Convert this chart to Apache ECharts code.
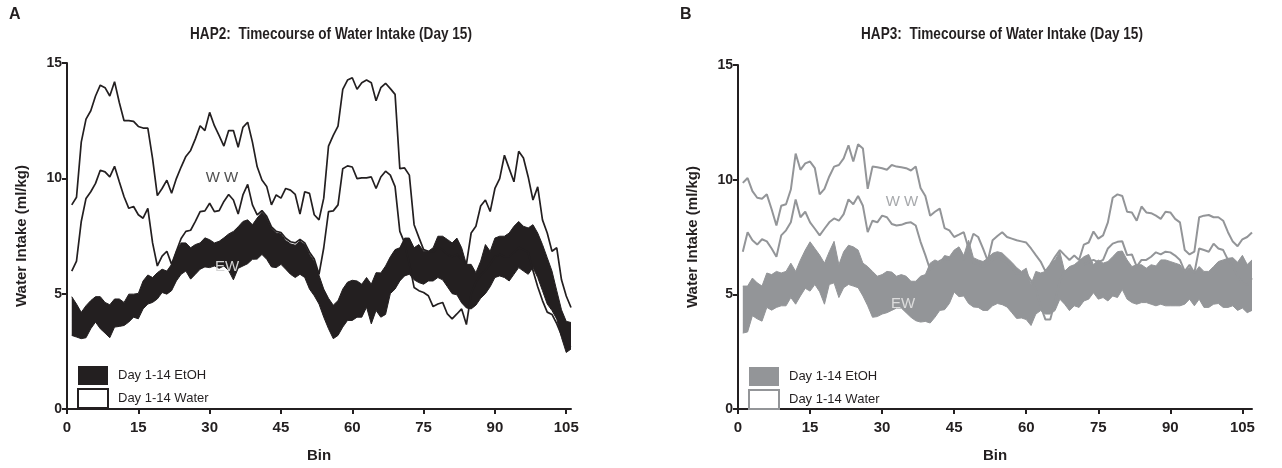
<!DOCTYPE html>
<html>
<head>
<meta charset="utf-8">
<script src="https://cdn.jsdelivr.net/npm/echarts@6/dist/echarts.min.js"></script>
<style>
  html, body { margin: 0; padding: 0; background: #fff; }
  #chart { width: 1282px; height: 468px; }
</style>
</head>
<body>
<div id="chart"></div>
<script>
// bins on the x axis (panel A runs to 106, panel B to 107)
const binsA = Array.from({ length: 107 }, (_, i) => i)
const binsB = Array.from({ length: 108 }, (_, i) => i)
const xTicks = [0, 15, 30, 45, 60, 75, 90, 105]

// HAP2 (A): water-history mice, upper / lower edge of the band (bins 1..106)
const hap2WaterUpper = [
  8.85, 9.18, 11.57, 12.57, 12.93, 13.57, 14.04, 13.93, 13.57, 14.19,
  13.29, 12.5, 12.5, 12.47, 12.25, 12.18, 12.18, 10.85, 9.25, 9.56,
  9.92, 9.35, 9.99, 10.49, 10.95, 11.21, 11.71, 12.28, 12.07, 12.86,
  12.28, 11.85, 11.4, 12.07, 12.07, 11.35, 12.21, 12.43, 11.57, 10.5,
  9.93, 9.65, 8.85, 9.28, 9.14, 9.56, 9.49, 9.3, 8.45, 9.42,
  9.35, 8.42, 8.2, 9.14, 11.4, 11.86, 12.26, 13.86, 14.26, 14.36,
  13.86, 14.14, 14.26, 14.14, 13.36, 13.93, 14.12, 13.89, 13.64, 10.42,
  10.45, 10.14, 7.99, 7.44, 6.91, 6.84, 6.8, 7.0, 6.9, 6.7,
  6.6, 6.7, 6.5, 6.27, 7.63, 7.92, 8.8, 9.06, 8.56, 9.56,
  9.99, 11.0, 10.42, 9.85, 11.17, 10.88, 10.06, 9.06, 9.63, 8.2,
  7.63, 6.84, 6.99, 5.6, 4.9, 4.4
]
const hap2WaterLower = [
  5.98, 6.41, 8.13, 9.13, 9.42, 9.78, 10.35, 10.28, 10.06, 10.52,
  9.85, 9.2, 8.7, 8.78, 8.42, 8.27, 8.7, 7.2, 6.2, 6.63,
  6.84, 6.27, 6.84, 7.39, 7.7, 7.75, 8.13, 8.56, 8.59, 8.92,
  8.56, 8.6, 9.0, 9.3, 9.06, 8.45, 9.28, 9.74, 8.85, 8.42,
  8.6, 8.35, 7.9, 7.7, 7.65, 7.4, 7.25, 7.2, 7.35, 7.2,
  6.8, 6.5, 5.84, 6.99, 8.56, 8.59, 8.85, 10.42, 10.54, 10.49,
  9.99, 10.02, 10.02, 10.06, 9.56, 10.06, 10.31, 10.14, 9.64, 7.7,
  7.2, 6.3, 5.27, 5.13, 5.05, 4.91, 4.44, 4.55, 4.62, 4.12,
  3.91, 4.12, 4.34, 3.66, 5.0, 5.5, 5.8, 6.0, 6.3, 6.6,
  6.7, 6.6, 6.6, 6.8, 7.0, 6.9, 6.8, 6.0, 5.3, 4.7,
  4.2, 4.1, 3.7, 3.2, 2.8, 2.7
]
// HAP2 (A): EtOH-history mice
const hap2EtohUpper = [
  4.87, 4.55, 4.19, 4.48, 4.7, 4.87, 4.87, 4.62, 4.52, 4.77,
  4.77, 4.62, 4.98, 4.98, 5.01, 5.55, 5.81, 5.7, 5.91, 6.06,
  5.98, 6.27, 6.84, 7.2, 7.2, 6.99, 7.13, 7.2, 7.42, 7.34,
  7.2, 7.27, 7.42, 7.59, 7.7, 7.9, 8.13, 8.2, 7.99, 8.28,
  8.53, 8.28, 7.85, 7.63, 7.59, 7.3, 7.16, 7.1, 7.27, 7.13,
  6.7, 6.41, 5.8, 5.2, 4.8, 4.5, 4.7, 5.2, 5.5, 5.58,
  5.55, 5.41, 5.7, 5.41, 5.91, 5.9, 6.2, 6.6, 6.91, 6.99,
  7.41, 7.41, 6.99, 7.13, 6.84, 6.84, 6.99, 7.49, 7.49, 7.35,
  7.2, 7.41, 6.99, 6.27, 6.27, 5.91, 6.41, 7.13, 6.84, 7.41,
  7.49, 7.49, 7.63, 7.92, 8.13, 7.92, 7.85, 7.99, 7.63, 7.13,
  6.56, 5.98, 5.13, 4.3, 3.8, 3.75
]
const hap2EtohLower = [
  3.19, 3.12, 3.05, 3.09, 3.48, 3.77, 3.48, 3.29, 3.09, 3.55,
  3.58, 3.62, 3.77, 3.98, 3.91, 4.34, 4.55, 4.62, 4.77, 5.05,
  4.98, 5.13, 5.55, 5.84, 5.98, 5.63, 5.84, 6.06, 6.16, 6.13,
  6.2, 6.1, 6.2, 6.0, 5.6, 6.1, 6.2, 6.3, 6.49, 6.5,
  6.7, 6.49, 6.16, 6.13, 6.27, 6.06, 5.84, 5.7, 5.84, 5.7,
  5.2, 4.91, 4.55, 3.98, 3.48, 3.05, 3.19, 3.55, 3.84, 3.84,
  3.98, 3.98, 4.41, 3.69, 4.27, 3.98, 4.1, 5.0, 5.2, 5.55,
  5.77, 5.84, 5.6, 5.48, 5.41, 5.55, 5.55, 5.7, 5.6, 5.3,
  5.0, 4.95, 4.6, 4.38, 4.34, 4.5, 4.8, 5.0, 5.3, 5.7,
  5.77, 5.7, 5.55, 5.84, 6.13, 5.98, 5.84, 6.13, 5.7, 5.13,
  4.55, 4.27, 3.9, 3.1, 2.45, 2.6
]

// HAP3 (B): bins 1..107
const hap3WaterUpper = [
  9.86, 10.07, 9.5, 9.21, 9.17, 9.36, 8.71, 8.0, 8.86, 8.93,
  9.57, 11.14, 10.43, 10.71, 10.79, 10.5, 9.36, 9.6, 10.14, 10.57,
  10.64, 10.93, 11.5, 10.79, 11.54, 11.36, 9.6, 10.57, 10.54, 10.5,
  10.43, 10.64, 10.57, 10.54, 10.5, 10.4, 10.57, 9.64, 9.29, 8.43,
  8.6, 8.74, 7.89, 7.79, 7.5, 7.6, 7.71, 7.0, 7.64, 7.5,
  7.0, 6.46, 7.36, 7.54, 7.71, 7.5, 7.43, 7.36, 7.31, 7.26,
  7.0, 6.71, 6.43, 6.0, 6.29, 6.64, 6.93, 6.71, 6.5, 6.69,
  6.5, 7.17, 7.26, 7.74, 7.43, 7.57, 8.14, 9.21, 9.36, 9.29,
  8.6, 8.57, 8.21, 8.83, 8.57, 8.54, 8.43, 8.29, 8.6, 8.57,
  8.29, 8.14, 6.93, 6.74, 6.86, 8.36, 8.43, 8.46, 8.36, 8.36,
  8.21, 7.71, 7.3, 7.1, 7.4, 7.5, 7.7
]
const hap3WaterLower = [
  6.86, 7.71, 7.36, 7.17, 7.4, 7.31, 7.0, 6.64, 7.57, 7.79,
  8.14, 9.14, 8.36, 8.6, 8.14, 7.86, 7.57, 7.86, 8.14, 8.31,
  8.21, 8.5, 9.14, 8.93, 9.29, 8.86, 7.71, 8.21, 8.14, 8.43,
  8.36, 8.07, 8.0, 8.03, 8.11, 8.14, 8.0, 7.29, 6.71, 6.07,
  6.29, 6.46, 6.57, 6.5, 6.7, 6.8, 6.5, 7.0, 6.4, 6.3,
  6.2, 6.3, 6.5, 6.6, 6.5, 6.4, 6.2, 5.9, 5.9, 5.9,
  5.6, 5.2, 4.5, 3.9, 3.9, 4.7, 5.6, 6.0, 6.1, 6.2,
  6.3, 6.3, 6.4, 6.5, 6.4, 6.5, 7.0, 7.21, 7.29, 7.31,
  6.71, 6.74, 6.21, 6.5, 6.5, 6.64, 6.83, 6.74, 6.86, 6.83,
  6.69, 6.5, 6.0, 6.29, 5.93, 7.0, 6.93, 6.86, 7.21, 7.0,
  6.93, 6.5, 6.2, 5.8, 5.5, 5.4, 5.7
]
const hap3EtohUpper = [
  5.36, 5.36, 5.71, 5.5, 5.36, 5.93, 5.86, 6.0, 5.93, 6.0,
  6.36, 6.0, 6.5, 6.93, 7.29, 7.0, 6.71, 6.36, 6.86, 7.31,
  6.29, 6.86, 7.14, 7.07, 6.93, 6.36, 6.21, 6.0, 5.79, 5.86,
  6.0, 5.97, 5.79, 5.86, 5.79, 5.57, 5.57, 5.79, 5.86, 6.36,
  6.5, 6.4, 6.69, 6.64, 6.93, 7.07, 6.69, 7.36, 6.6, 6.5,
  6.43, 6.57, 6.79, 6.86, 6.8, 6.6, 6.4, 6.17, 6.0, 6.14,
  5.43, 6.0, 5.93, 6.0, 6.29, 6.5, 6.86, 6.0, 6.21, 6.29,
  6.46, 6.64, 6.74, 6.29, 6.5, 6.36, 6.43, 6.64, 6.86, 6.89,
  6.5, 6.21, 6.29, 6.29, 6.14, 6.29, 6.24, 6.5, 6.5, 6.43,
  6.36, 6.29, 6.0, 6.17, 5.93, 6.21, 6.0, 6.0, 6.21, 6.43,
  6.5, 6.57, 6.6, 6.4, 6.7, 6.3, 6.5
]
const hap3EtohLower = [
  3.31, 3.36, 4.07, 3.93, 3.83, 4.43, 4.31, 4.43, 4.5, 4.5,
  4.86, 4.57, 4.93, 5.26, 5.14, 5.43, 5.11, 4.57, 5.43, 5.5,
  4.86, 5.29, 5.43, 5.36, 5.29, 4.93, 4.5, 4.0, 4.03, 4.14,
  4.2, 4.3, 4.4, 4.4, 4.2, 4.0, 3.85, 3.79, 3.82, 3.75,
  4.0, 4.3, 4.33, 4.6, 5.1, 4.9, 4.93, 4.6, 4.45, 4.43,
  4.3, 4.3, 4.5, 4.6, 4.55, 4.45, 4.2, 3.95, 3.97, 3.9,
  3.64, 4.14, 4.29, 4.14, 4.14, 4.29, 4.79, 4.57, 4.29, 4.5,
  4.43, 4.71, 4.79, 5.07, 4.79, 4.86, 4.71, 4.93, 4.86, 5.21,
  4.79, 4.64, 4.57, 4.64, 4.64, 4.57, 4.5, 4.57, 4.5, 4.5,
  4.5, 4.5, 4.57, 4.79, 4.5, 4.79, 4.43, 4.43, 4.57, 4.6,
  4.43, 4.43, 4.5, 4.3, 4.4, 4.2, 4.3
]

const BLACK = '#231f20'
const GREY = '#939598'
const SANS = "'Liberation Sans', Arial, sans-serif"

// bin 0 has no value
const pad = arr => ['-', ...arr]
const diff = (up, lo) => up.map((u, i) => +(u - lo[i]).toFixed(2))
const isTick = (idx, val) => xTicks.includes(Number(val))

function xAxisFor(gridIndex, bins) {
  return {
    type: 'category', gridIndex, data: bins, boundaryGap: false,
    name: 'Bin', nameLocation: 'middle', nameGap: 39,
    nameTextStyle: { fontFamily: SANS, fontWeight: 'bold', fontSize: 15, color: BLACK },
    axisLine: { lineStyle: { color: BLACK, width: 2 } },
    axisTick: { interval: isTick, length: 5, alignWithLabel: true, lineStyle: { color: BLACK, width: 2 } },
    axisLabel: { interval: isTick, margin: 11, fontFamily: SANS, fontWeight: 'bold', fontSize: 15, color: BLACK },
    splitLine: { show: false },
  }
}

function yAxisFor(gridIndex) {
  return {
    type: 'value', gridIndex, min: 0, max: 15, interval: 5,
    name: 'Water Intake (ml/kg)', nameLocation: 'middle', nameGap: 38,
    nameTextStyle: { fontFamily: SANS, fontWeight: 'bold', fontSize: 15, color: BLACK },
    axisLine: { show: true, lineStyle: { color: BLACK, width: 2 } },
    axisTick: { show: true, length: 5, lineStyle: { color: BLACK, width: 2 } },
    axisLabel: { margin: 5, fontFamily: SANS, fontWeight: 'bold', fontSize: 14, color: BLACK },
    splitLine: { show: false },
  }
}

function panelSeries(idx, color, lineW, wUp, wLo, eUp, eLo) {
  const base = { type: 'line', xAxisIndex: idx, yAxisIndex: idx, symbol: 'none', silent: true }
  return [
    { ...base, name: 'Day 1-14 Water', data: pad(wUp), lineStyle: { color, width: lineW }, itemStyle: { color } },
    { ...base, name: 'water lower ' + idx, data: pad(wLo), lineStyle: { color, width: lineW } },
    { ...base, name: 'etoh lower ' + idx, stack: 'etoh' + idx, data: pad(eLo), lineStyle: { color, width: 1 } },
    {
      ...base, name: 'Day 1-14 EtOH', stack: 'etoh' + idx, data: pad(diff(eUp, eLo)),
      lineStyle: { color, width: 1 }, itemStyle: { color },
      areaStyle: { color, opacity: 1 },
    },
  ]
}

function legendFor(left, top, color) {
  return {
    orient: 'vertical', left, top, padding: 0, itemWidth: 30, itemHeight: 19, itemGap: 3,
    selectedMode: false,
    textStyle: { fontFamily: SANS, fontSize: 13, color: BLACK, padding: [0, 0, 0, 5] },
    data: [
      { name: 'Day 1-14 EtOH', icon: 'rect', itemStyle: { color, borderWidth: 0 } },
      { name: 'Day 1-14 Water', icon: 'rect', itemStyle: { color: '#fff', borderColor: color, borderWidth: 2 } },
    ],
  }
}

// condensed bold heading (the figure uses a narrow face)
function heading(text, x) {
  return {
    type: 'text', x, y: 34, scaleX: 0.8, z: 100,
    style: { text, align: 'center', verticalAlign: 'middle', fill: BLACK, font: "bold 17px 'Liberation Sans'" },
  }
}
function bandLabel(text, x, y, fill) {
  return {
    type: 'text', x, y, z: 100,
    style: { text, align: 'center', verticalAlign: 'middle', fill, font: "15px 'Liberation Sans'" },
  }
}

const chart = echarts.init(document.getElementById('chart'))

const option = {
  animation: false,
  backgroundColor: '#fff',
  title: [
    { text: 'A', left: 9, top: 7, padding: 0, textStyle: { fontFamily: SANS, fontWeight: 'bold', fontSize: 16, color: BLACK } },
    { text: 'B', left: 680, top: 7, padding: 0, textStyle: { fontFamily: SANS, fontWeight: 'bold', fontSize: 16, color: BLACK } },
  ],
  grid: [
    { left: 67, top: 63, width: 504, height: 351 },
    { left: 738, top: 65, width: 514, height: 350 },
  ],
  xAxis: [xAxisFor(0, binsA), xAxisFor(1, binsB)],
  yAxis: [yAxisFor(0), yAxisFor(1)],
  legend: [legendFor(77, 366, BLACK), legendFor(748, 367, GREY)],
  series: [
    ...panelSeries(0, BLACK, 1.7, hap2WaterUpper, hap2WaterLower, hap2EtohUpper, hap2EtohLower),
    ...panelSeries(1, GREY, 2, hap3WaterUpper, hap3WaterLower, hap3EtohUpper, hap3EtohLower),
  ],
  graphic: [
    heading('HAP2:  Timecourse of Water Intake (Day 15)', 331),
    heading('HAP3:  Timecourse of Water Intake (Day 15)', 1002),
    bandLabel('W W', 222, 178, '#505050'),
    bandLabel('EW', 227, 267, '#d4d4d4'),
    bandLabel('W W', 902, 202, '#a7a9ac'),
    bandLabel('EW', 903, 304, '#dcdcdc'),
  ],
}

chart.setOption(option)
</script>
</body>
</html>
